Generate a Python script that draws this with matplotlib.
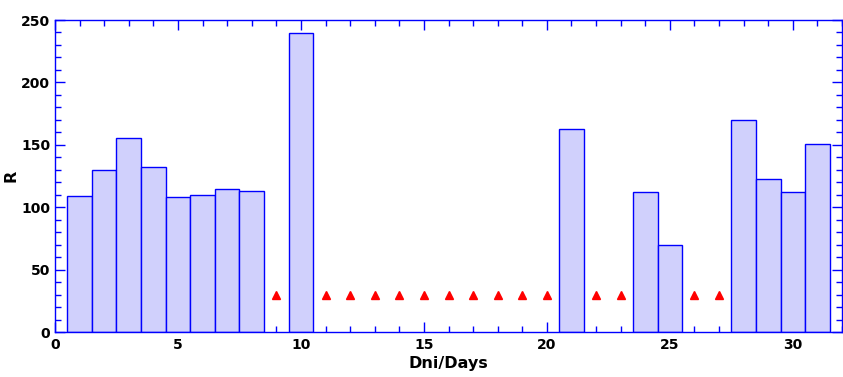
import matplotlib

matplotlib.use("Agg")

import matplotlib.pyplot as plt
from matplotlib.ticker import MultipleLocator

plt.rcParams["font.family"] = ["DejaVu Sans"]

bar_days = [1, 2, 3, 4, 5, 6, 7, 8, 10, 21, 24, 25, 28, 29, 30, 31]
bar_values = [109, 130, 155.6, 132.3, 108.3, 110, 114.7, 113, 239.2,
              162.8, 112.3, 69.8, 170, 122.7, 112.3, 150.8]
missing_days = [9, 11, 12, 13, 14, 15, 16, 17, 18, 19, 20, 22, 23, 26, 27]
missing_values = [30] * len(missing_days)

blue = "#0000ff"

fig = plt.figure(figsize=(8.43, 3.77), dpi=100)
ax = fig.add_axes([55 / 843, 1 - 332 / 377, 787 / 843, 312 / 377])

ax.bar(bar_days, bar_values, width=1.0, color="#d0d0fc", edgecolor=blue,
       linewidth=1.0, zorder=2)
ax.plot(missing_days, missing_values, linestyle="none", marker="^",
        color="#ff0000", markersize=6, zorder=3)

ax.set_xlim(0, 32)
ax.set_ylim(0, 250)
ax.xaxis.set_major_locator(MultipleLocator(5))
ax.xaxis.set_minor_locator(MultipleLocator(1))
ax.yaxis.set_major_locator(MultipleLocator(50))
ax.yaxis.set_minor_locator(MultipleLocator(10))

for s in ax.spines.values():
    s.set_color(blue)
    s.set_linewidth(1.0)

ax.tick_params(which="both", direction="in", top=True, right=True,
               color=blue, width=1.0)
ax.tick_params(which="major", length=7, labelsize=10)
ax.tick_params(axis="x", which="major", pad=4)
ax.tick_params(axis="y", which="major", pad=3.5)
ax.tick_params(which="minor", length=4)
for lbl in ax.get_xticklabels() + ax.get_yticklabels():
    lbl.set_fontweight("bold")

ax.set_xlabel("Dni/Days", fontsize=11.5, fontweight="bold", labelpad=3)
ax.set_ylabel("R", fontsize=11.5, fontweight="bold")
ax.yaxis.set_label_coords(-0.047, 0.5)

fig.savefig("out.png", dpi=100)
